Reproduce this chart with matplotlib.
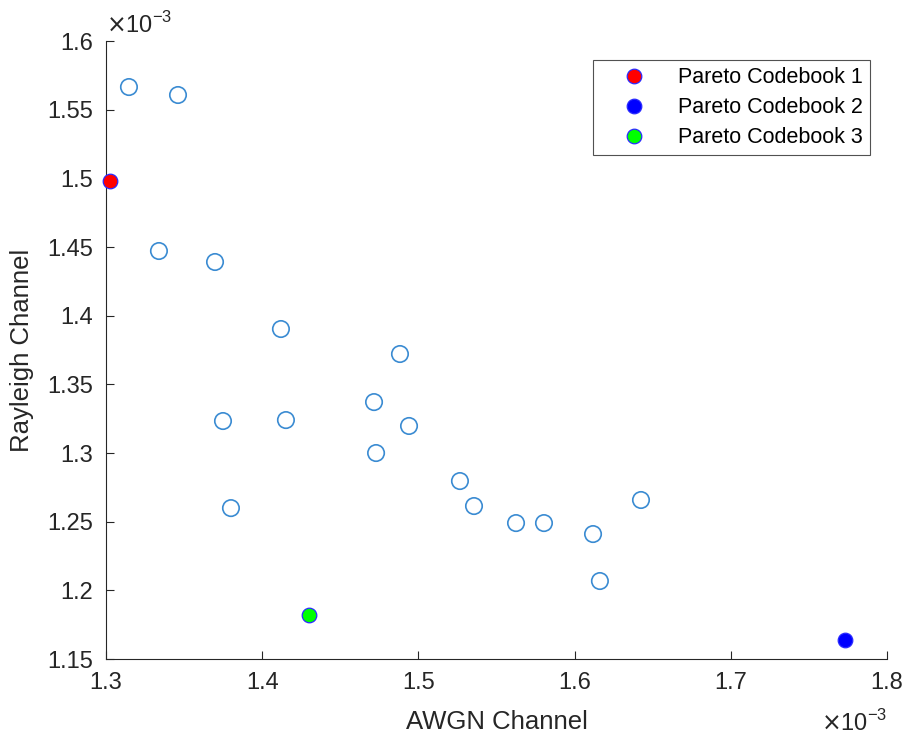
import numpy as np
import matplotlib.pyplot as plt
from matplotlib import rcParams

rcParams['font.family'] = ['Liberation Sans', 'DejaVu Sans']

# 数据 (单位 1e-3)
awgn = [1.3147, 1.3461, 1.3339, 1.3698, 1.4120, 1.4882, 1.4716, 1.3749,
        1.4152, 1.4940, 1.4729, 1.5266, 1.5356, 1.3800, 1.5625, 1.5804,
        1.6118, 1.6425, 1.6162]
rayleigh = [1.5665, 1.5607, 1.4471, 1.4391, 1.3903, 1.3721, 1.3371, 1.3233,
            1.3240, 1.3197, 1.3000, 1.2796, 1.2614, 1.2599, 1.2490, 1.2490,
            1.2410, 1.2658, 1.2068]
pareto_labels = ['Pareto Codebook 1', 'Pareto Codebook 2', 'Pareto Codebook 3']
pareto_x = [1.3026, 1.7731, 1.4300]
pareto_y = [1.4981, 1.1638, 1.1820]
pareto_colors = ['#ff0000', '#0000ff', '#00ff00']

scale = 1e-3
txt_color = '#262626'

fig = plt.figure(figsize=(9.09, 7.38), dpi=100)
ax = fig.add_axes([0.1166, 0.107, 0.8592, 0.8374])

ax.scatter(np.array(awgn) * scale, np.array(rayleigh) * scale, s=140,
           facecolors='none', edgecolors='#3a8bd2', linewidths=1.2, zorder=3)
for lab, px, py, c in zip(pareto_labels, pareto_x, pareto_y, pareto_colors):
    ax.plot(px * scale, py * scale, 'o', markersize=10.5, markerfacecolor=c,
            markeredgecolor='#2a2aff', markeredgewidth=0.9, linestyle='none',
            label=lab, zorder=4, clip_on=False)

ax.set_xlim(1.3e-3, 1.8e-3)
ax.set_ylim(1.15e-3, 1.6e-3)
xt = np.arange(1.3, 1.81, 0.1)
yt = np.arange(1.15, 1.601, 0.05)
ax.set_xticks(xt * scale)
ax.set_xticklabels(['%g' % round(v, 2) for v in xt])
ax.set_yticks(yt * scale)
ax.set_yticklabels(['%g' % round(v, 2) for v in yt])

ax.spines['top'].set_visible(False)
ax.spines['right'].set_visible(False)
for sp in ['left', 'bottom']:
    ax.spines[sp].set_color(txt_color)
    ax.spines[sp].set_linewidth(0.8)
ax.tick_params(direction='in', length=6, width=0.8, colors=txt_color,
               labelsize=17, labelcolor=txt_color, pad=9)

ax.set_xlabel('AWGN Channel', fontsize=18.5, color=txt_color, labelpad=12)
ax.set_ylabel('Rayleigh Channel', fontsize=18.5, color=txt_color, labelpad=10)

# 指数标注
ax.text(0.0, 1.013, r'$\times$10$^{\mathregular{-3}}$', transform=ax.transAxes,
        fontsize=17, color=txt_color, ha='left', va='baseline')
ax.text(1.0, -0.116, r'$\times$10$^{\mathregular{-3}}$', transform=ax.transAxes,
        fontsize=17, color=txt_color, ha='right', va='baseline')

leg = ax.legend(loc='upper right', bbox_to_anchor=(0.978, 0.969), fontsize=15.5,
                frameon=True, fancybox=False, edgecolor='#262626',
                handletextpad=0.47, borderpad=0.33, labelspacing=0.42,
                handlelength=3.16, borderaxespad=0)
leg.get_frame().set_linewidth(0.8)
for t in leg.get_texts():
    t.set_color('black')

plt.savefig('out.png', dpi=100)
